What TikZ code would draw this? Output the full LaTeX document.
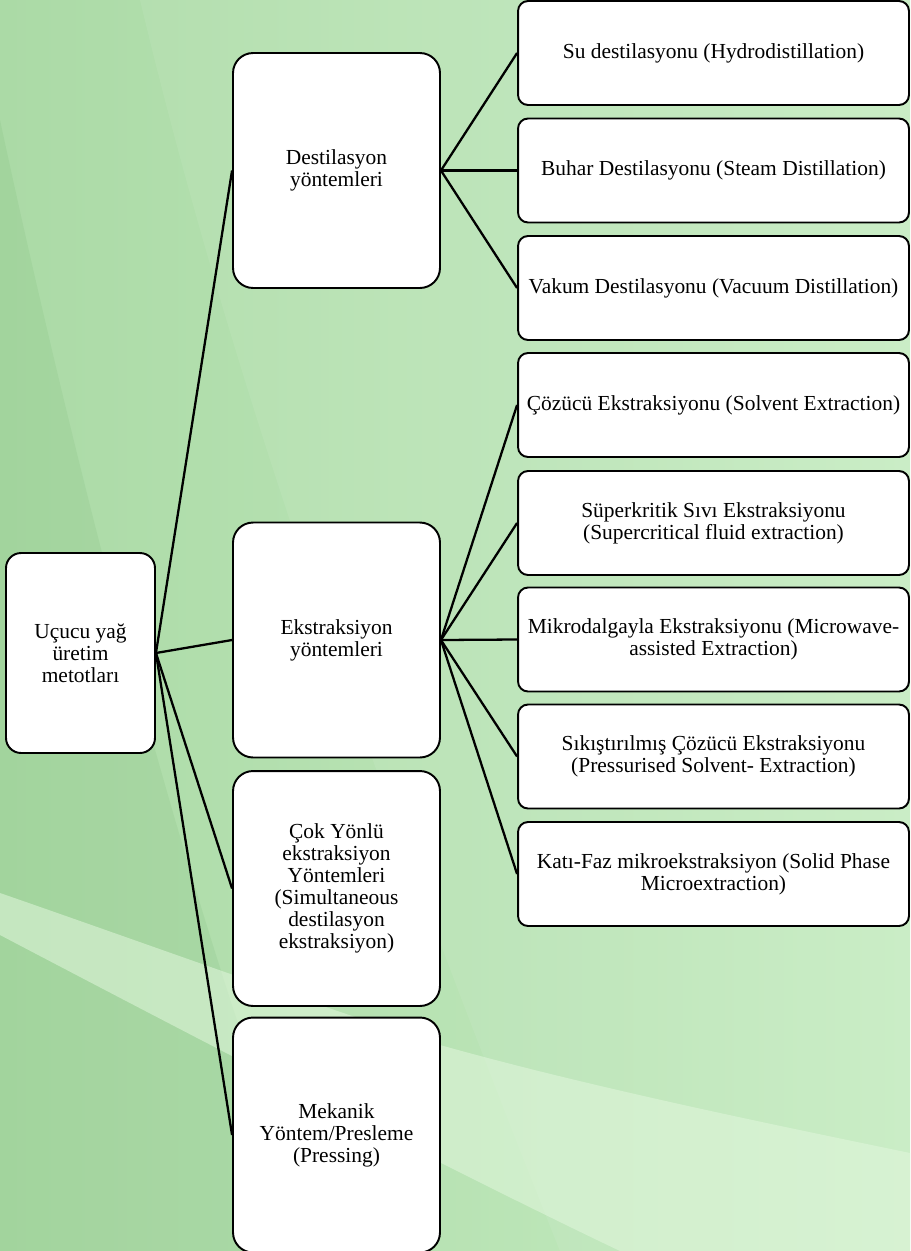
\documentclass[tikz,border=0pt]{standalone}
\usepackage{fontspec}
\setmainfont{Liberation Serif}
\usepackage{tikz}

\definecolor{bgdark}{HTML}{ABDAA6}
\definecolor{bglight}{HTML}{C6ECC2}
\definecolor{bgband}{HTML}{E2F7DD}

\begin{document}
\begin{tikzpicture}[x=0.02cm,y=-0.02cm,
	box/.style={draw,fill=white,line width=1.1pt,align=center,inner sep=2pt,
		font=\fontsize{12.2}{12.6}\selectfont},
	rootbox/.style={box,rounded corners=0.3cm,minimum width=2.98cm,minimum height=4cm},
	midbox/.style={box,rounded corners=0.4cm,minimum width=4.14cm,minimum height=4.7cm},
	leafbox/.style={box,rounded corners=0.2cm,minimum width=7.82cm,minimum height=2.08cm},
	link/.style={line width=1.3pt}]

	\useasboundingbox (0,0) rectangle (910,1251);
	\clip (0,0) rectangle (910,1251);

	% background
	\fill[left color=bgdark,right color=bglight] (0,0) rectangle (910,1251);
	\fill[white,opacity=.07] (140,0) .. controls (200,250) and (300,600) .. (560,1251) -- (910,1251) -- (910,0) -- cycle;
	\fill[black!60!green,opacity=.05] (0,120) .. controls (60,400) and (180,900) .. (320,1251) -- (0,1251) -- cycle;
	\fill[bgband,opacity=.55] (0,893) .. controls (150,945) and (300,1000) .. (440,1045)
		.. controls (600,1090) and (800,1130) .. (910,1153) -- (910,1251) -- (620,1251)
		.. controls (450,1170) and (200,1040) .. (0,935) -- cycle;

	% boxes
	\node[rootbox] (root) at (80.5,653) {Uçucu yağ\\üretim\\metotları};

	\node[midbox] (dest) at (336.5,170.5) {Destilasyon\\yöntemleri};
	\node[midbox] (ekst) at (336.5,640) {Ekstraksiyon\\yöntemleri};
	\node[midbox] (cok)  at (336.5,888.5) {Çok Yönlü\\ekstraksiyon\\Yöntemleri\\(Simultaneous\\destilasyon\\ekstraksiyon)};
	\node[midbox] (mek)  at (336.5,1135) {Mekanik\\Yöntem/Presleme\\(Pressing)};

	\node[leafbox] (su)    at (713.5,53)    {Su destilasyonu (Hydrodistillation)};
	\node[leafbox] (buhar) at (713.5,170.5) {Buhar Destilasyonu (Steam Distillation)};
	\node[leafbox] (vakum) at (713.5,288)   {Vakum Destilasyonu (Vacuum Distillation)};
	\node[leafbox] (coz)   at (713.5,405)   {Çözücü Ekstraksiyonu (Solvent Extraction)};
	\node[leafbox] (super) at (713.5,523)   {Süperkritik Sıvı Ekstraksiyonu\\(Supercritical fluid extraction)};
	\node[leafbox] (mikro) at (713.5,639.5) {Mikrodalgayla Ekstraksiyonu (Microwave-\\assisted Extraction)};
	\node[leafbox] (sik)   at (713.5,756.5) {Sıkıştırılmış Çözücü Ekstraksiyonu\\(Pressurised Solvent- Extraction)};
	\node[leafbox] (kati)  at (713.5,874)   {Katı-Faz mikroekstraksiyon (Solid Phase\\Microextraction)};

	% connectors
	\foreach \m in {dest,ekst,cok,mek}
		\draw[link] (root.east) -- (\m.west);
	\foreach \l in {su,buhar,vakum}
		\draw[link] (dest.east) -- (\l.west);
	\foreach \l in {coz,super,mikro,sik,kati}
		\draw[link] (ekst.east) -- (\l.west);

\end{tikzpicture}
\end{document}
